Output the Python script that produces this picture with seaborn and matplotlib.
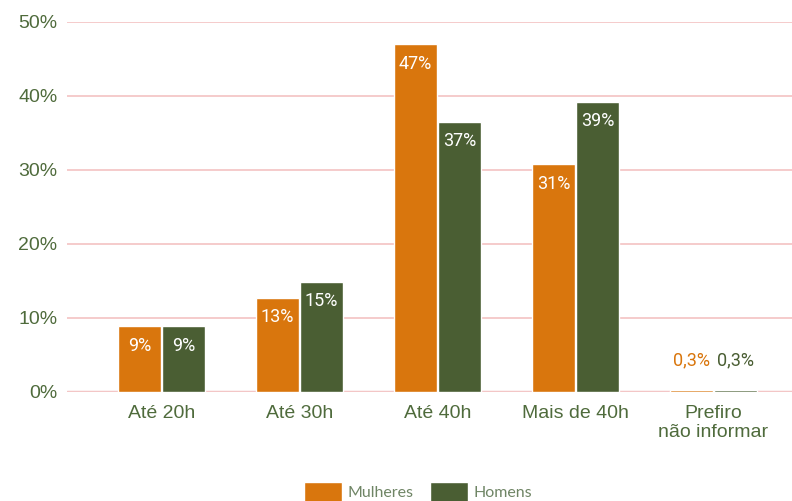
import seaborn as sns
import matplotlib.pyplot as plt
import pandas as pd
from matplotlib.patches import Patch

categorias = ["Até 20h", "Até 30h", "Até 40h", "Mais de 40h", "Prefiro\nnão informar"]
mulheres = [8.9, 12.7, 47.0, 30.8, 0.3]
homens = [8.9, 14.9, 36.5, 39.2, 0.3]
rotulos_mulheres = ["9%", "13%", "47%", "31%", "0,3%"]
rotulos_homens = ["9%", "15%", "37%", "39%", "0,3%"]
yticks = [0, 10, 20, 30, 40, 50]

laranja = "#D9760D"
verde = "#4A5E33"
texto = "#4F6B3C"

df = pd.DataFrame({
    "cat": categorias * 2,
    "valor": mulheres + homens,
    "sexo": ["Mulheres"] * 5 + ["Homens"] * 5,
})

sns.set_style("white")
plt.rcParams["font.family"] = ["Liberation Sans", "DejaVu Sans"]

fig = plt.figure(figsize=(7.92, 5.01), dpi=100)
ax = fig.add_axes([67 / 792, 109 / 501, 1 - 67 / 792, 370 / 501])

sns.barplot(
    data=df, x="cat", y="valor", hue="sexo",
    palette={"Mulheres": laranja, "Homens": verde},
    width=0.638, gap=0.035, saturation=1, ax=ax, legend=False,
)

ax.set_ylim(0, 50)
ax.set_xlim(-0.685, 4.57)
ax.set_yticks(yticks)
ax.set_yticklabels([f"{t}%" for t in yticks])
ax.grid(axis="y", color="#F4C7C7", linewidth=1.3)
ax.axhline(0, color="#F2C2C2", linewidth=2.5, zorder=0)
ax.set_axisbelow(True)
for s in ax.spines.values():
    s.set_visible(False)
ax.set_xlabel("")
ax.set_ylabel("")
ax.tick_params(axis="both", length=0, colors=texto, labelsize=14)
ax.tick_params(axis="y", pad=7)
ax.tick_params(axis="x", pad=9)

# rótulos de valor
for cont, rot, cor in [(ax.containers[0], rotulos_mulheres, laranja),
                       (ax.containers[1], rotulos_homens, verde)]:
    for bar, r in zip(cont, rot):
        x = bar.get_x() + bar.get_width() / 2
        h = bar.get_height()
        if h > 3:
            ax.annotate(r, (x, h), xytext=(0, -14), textcoords="offset points",
                        ha="center", va="center", color="white", fontsize=13,
                        family="Roboto")
        else:
            ax.annotate(r, (x, h), xytext=(0, 21), textcoords="offset points",
                        ha="center", va="center", color=cor, fontsize=13,
                        family="Roboto")

# legenda
handles = [Patch(facecolor=laranja, label="Mulheres"), Patch(facecolor=verde, label="Homens")]
leg = fig.legend(handles=handles, loc="lower center", bbox_to_anchor=(0.528, -0.03), ncol=2,
                 frameon=False, handlelength=2.4, handleheight=1.5, columnspacing=1.0,
                 handletextpad=0.35, prop={"family": "Lato", "size": 11.5})
for t in leg.get_texts():
    t.set_color("#6F8565")

fig.savefig("out.png", dpi=100)
